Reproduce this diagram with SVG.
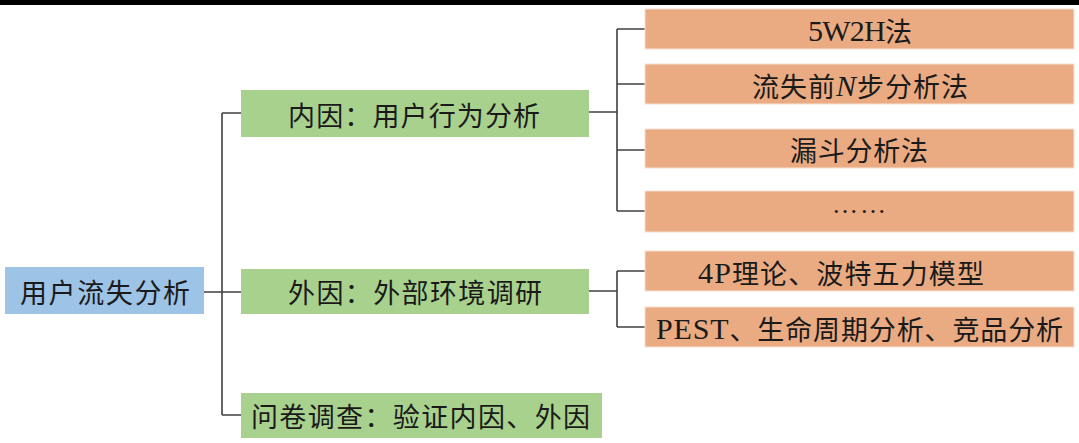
<svg xmlns="http://www.w3.org/2000/svg" width="1079" height="443" viewBox="0 0 1079 443">
<style>
.root{fill:#9dc3e6}
.g{fill:#a9d18e}
.o{fill:#eaab82;stroke:#f6e2d4;stroke-width:1}
.t{font-family:"Noto Sans CJK SC","Noto Sans",sans-serif;font-size:27px;fill:#1a1a1a;text-anchor:middle;dominant-baseline:central}
.s{font-family:"Liberation Serif","Noto Sans CJK SC",serif;font-size:27px;fill:#1a1a1a;text-anchor:middle;dominant-baseline:central}
.cjk{font-family:"Noto Sans CJK SC",sans-serif;font-size:27px}
.lat{font-family:"Liberation Serif",serif;font-size:30px}
.c{fill:none;stroke:#404040;stroke-width:1.6}
</style>
<rect x="0" y="0" width="1079" height="5" fill="#000"/>
<g id="connectors">
<path class="c" d="M204 292H241M222 113V415M222 113H241M222 415H241"/>
<path class="c" d="M589 112H617M617 29V211M617 29H645M617 84H645M617 150H645M617 211H645"/>
<path class="c" d="M589 291H617M617 271V327M617 271H645M617 327H645"/>
</g>
<g id="root">
<rect class="root" x="5" y="267" width="199" height="47"/>
<text class="t" x="105" y="291" textLength="170" lengthAdjust="spacing">用户流失分析</text>
</g>
<g id="internal">
<rect class="g" x="241" y="90" width="348" height="47"/>
<text class="t" x="414" y="114" textLength="252" lengthAdjust="spacing">内因：用户行为分析</text>
</g>
<g id="external">
<rect class="g" x="241" y="269" width="348" height="45"/>
<text class="t" x="415" y="291" textLength="254" lengthAdjust="spacing">外因：外部环境调研</text>
</g>
<g id="survey">
<rect class="g" x="241" y="393" width="361" height="45"/>
<text class="t" x="420.5" y="415" textLength="339" lengthAdjust="spacing">问卷调查：验证内因、外因</text>
</g>
<g id="m1">
<rect class="o" x="645" y="9" width="429" height="40"/>
<text class="s" x="860" y="30" textLength="104" lengthAdjust="spacing"><tspan class="lat">5W2H</tspan><tspan class="cjk">法</tspan></text>
</g>
<g id="m2">
<rect class="o" x="645" y="64" width="429" height="40"/>
<text class="s" x="860" y="85" textLength="216" lengthAdjust="spacing"><tspan class="cjk">流失前</tspan><tspan class="lat" font-style="italic">N</tspan><tspan class="cjk">步分析法</tspan></text>
</g>
<g id="m3">
<rect class="o" x="645" y="129" width="429" height="39"/>
<text class="t" x="859" y="149" textLength="138" lengthAdjust="spacing">漏斗分析法</text>
</g>
<g id="m4">
<rect class="o" x="645" y="191" width="429" height="41"/>
<text x="859" y="213" font-family="Liberation Serif,serif" font-size="26" fill="#1a1a1a" text-anchor="middle" textLength="54" lengthAdjust="spacing">……</text>
</g>
<g id="e1">
<rect class="o" x="645" y="251" width="429" height="40"/>
<text class="s" x="841" y="272" textLength="286" lengthAdjust="spacing"><tspan class="lat">4P</tspan><tspan class="cjk">理论、波特五力模型</tspan></text>
</g>
<g id="e2">
<rect class="o" x="645" y="307" width="429" height="40"/>
<text class="s" x="859.5" y="328" textLength="407" lengthAdjust="spacing"><tspan class="lat">PEST</tspan><tspan class="cjk">、生命周期分析、竞品分析</tspan></text>
</g>
</svg>
